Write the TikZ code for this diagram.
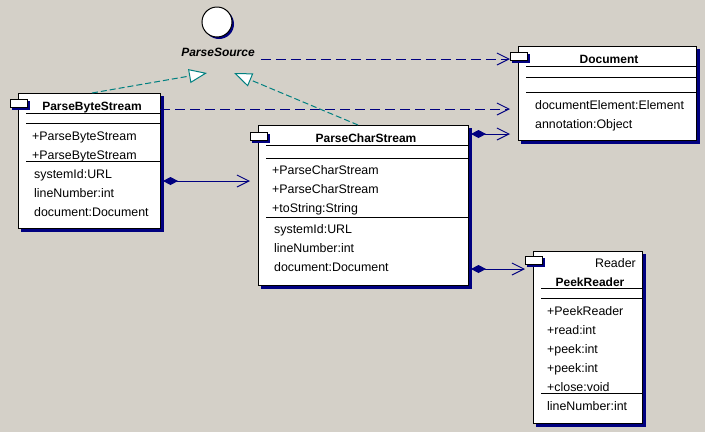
\documentclass[tikz,border=0pt]{standalone}
\usepackage{fontspec}
\setmainfont{Liberation Sans}
\usetikzlibrary{arrows.meta,calc}
\definecolor{bg}{RGB}{212,208,200}
\definecolor{umlnavy}{RGB}{0,0,128}
\definecolor{umlteal}{RGB}{0,128,128}
\tikzset{
  cls/.style={draw=black, fill=white, line width=1pt, inner sep=0pt, outer sep=0pt, anchor=north west,
    preaction={draw=umlnavy, fill=umlnavy, transform canvas={xshift=3pt, yshift=-3pt}}},
  clstab/.style={draw=black, fill=white, line width=1pt, inner sep=0pt, outer sep=0pt, anchor=north west,
    minimum width=17pt, minimum height=8pt,
    preaction={draw=umlnavy, fill=umlnavy, transform canvas={xshift=2pt, yshift=-2pt}}},
  sep/.style={draw=black, line width=1pt},
  txt/.style={inner sep=0pt, anchor=base west, font=\fontsize{12.4}{14}\selectfont},
  ttl/.style={inner sep=0pt, anchor=base, font=\fontsize{12}{14}\selectfont\bfseries},
  depend/.style={draw=umlnavy, line width=1pt, dash pattern=on 10pt off 5pt, -{Straight Barb[length=12pt,width=12pt]}},
  compose/.style={draw=umlnavy, line width=1pt, {Diamond[length=15pt,width=8pt,fill=umlnavy]}-{Straight Barb[length=12pt,width=12pt]}},
  realize/.style={draw=umlteal, line width=1pt, dash pattern=on 6pt off 3pt, -{Triangle[length=18pt,width=14pt,fill=white]}},
}
\begin{document}
\begin{tikzpicture}[x=1pt,y=-1pt]
\fill[bg] (0,0) rectangle (705,432);
\useasboundingbox (0,0) rectangle (705,432);

% ParseSource interface
\fill[umlnavy] (219,24) circle (15);
\node[draw=black, fill=white, line width=1pt, circle, minimum size=30pt, inner sep=0pt] (ps) at (217,22) {};
\node[inner sep=0pt, anchor=base, font=\fontsize{12}{14}\selectfont\bfseries\itshape] (psl) at (218,56) {ParseSource};

% ParseByteStream
\node[cls, minimum width=142pt, minimum height=135pt] (pbs) at (18,93) {};
\node[clstab] (pbstab) at (10,99) {};
\node[ttl] (pbst) at (92,110) {ParseByteStream};
\draw[sep] (26,113) -- (160,113);
\draw[sep] (26,123) -- (160,123);
\node[txt] (pbsm1) at (32,140) {+ParseByteStream};
\node[txt] (pbsm2) at (32,159) {+ParseByteStream};
\draw[sep] (26,161) -- (160,161);
\node[txt] (pbsa1) at (34,178) {systemId:URL};
\node[txt] (pbsa2) at (34,197) {lineNumber:int};
\node[txt] (pbsa3) at (34,216) {document:Document};

% ParseCharStream
\node[cls, minimum width=210pt, minimum height=160pt] (pcs) at (258,125) {};
\node[clstab] (pcstab) at (250,132) {};
\node[ttl] (pcst) at (366,142) {ParseCharStream};
\draw[sep] (266,145) -- (468,145);
\draw[sep] (266,158) -- (468,158);
\node[txt] (pcsm1) at (272,174) {+ParseCharStream};
\node[txt] (pcsm2) at (272,193) {+ParseCharStream};
\node[txt] (pcsm3) at (272,212) {+toString:String};
\draw[sep] (266,217) -- (468,217);
\node[txt] (pcsa1) at (274,233) {systemId:URL};
\node[txt] (pcsa2) at (274,252) {lineNumber:int};
\node[txt] (pcsa3) at (274,271) {document:Document};

% Document
\node[cls, minimum width=178pt, minimum height=94pt] (doc) at (518,46) {};
\node[clstab] (doctab) at (510,52) {};
\node[ttl] (doct) at (609,63) {Document};
\draw[sep] (526,66) -- (696,66);
\draw[sep] (526,77) -- (696,77);
\draw[sep] (526,92) -- (696,92);
\node[txt] (doca1) at (535,109) {documentElement:Element};
\node[txt] (doca2) at (535,128) {annotation:Object};

% PeekReader
\node[cls, minimum width=109pt, minimum height=172pt] (pr) at (533,251) {};
\node[clstab] (prtab) at (525,256) {};
\node[inner sep=0pt, anchor=base east, font=\fontsize{12.4}{14}\selectfont] (prs) at (636,267) {Reader};
\node[ttl] (prt) at (590,286) {PeekReader};
\draw[sep] (541,288) -- (642,288);
\draw[sep] (541,298) -- (642,298);
\node[txt] (prm1) at (547,315) {+PeekReader};
\node[txt] (prm2) at (547,334) {+read:int};
\node[txt] (prm3) at (547,353) {+peek:int};
\node[txt] (prm4) at (547,372) {+peek:int};
\node[txt] (prm5) at (547,391) {+close:void};
\draw[sep] (541,393) -- (642,393);
\node[txt] (pra1) at (547,410) {lineNumber:int};

% connector end points
\coordinate (e1) at (510,59);
\coordinate (e2) at (510,109);
\coordinate (e3) at (250,181);
\coordinate (e4) at (510,134);
\coordinate (e5) at (525,269);
\coordinate (t1) at (207,73);
\coordinate (t2) at (234,73);

% dependencies
\draw[depend] ($(psl.east |- e1)+(6,0)$) -- (e1);
\draw[depend] (pbs.north east |- e2) -- (e2);
% compositions
\draw[compose] ($(pbs.north east |- e3)+(3,0)$) -- (e3);
\draw[compose] ($(pcs.north east |- e4)+(3,0)$) -- (e4);
\draw[compose] ($(pcs.north east |- e5)+(3,0)$) -- (e5);
% realizations
\draw[realize] ($(pbs.north west)+(74,0)$) -- (t1);
\draw[realize] ($(pcs.north west)+(100,0)$) -- (t2);
\end{tikzpicture}
\end{document}
